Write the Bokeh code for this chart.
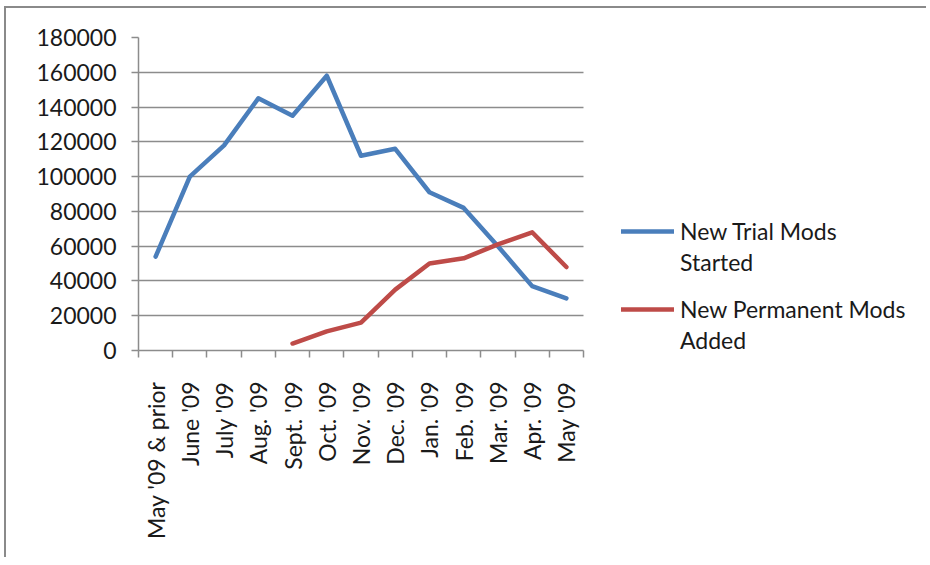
from bokeh.plotting import figure
from bokeh.models import (Range1d, FixedTicker, Legend, LegendItem, ColumnDataSource)
from bokeh.embed import file_html
from bokeh.resources import INLINE
import math

categories = ["May '09 & prior", "June '09", "July '09", "Aug. '09", "Sept. '09",
              "Oct. '09", "Nov. '09", "Dec. '09", "Jan. '09", "Feb. '09",
              "Mar. '09", "Apr. '09", "May '09"]
trial_mods = [54000, 100000, 118000, 145000, 135000, 158000, 112000, 116000,
              91000, 82000, 60000, 37000, 30000]
perm_cats = ["Sept. '09", "Oct. '09", "Nov. '09", "Dec. '09", "Jan. '09",
             "Feb. '09", "Mar. '09", "Apr. '09", "May '09"]
perm_mods = [4000, 11000, 16000, 35000, 50000, 53000, 61000, 68000, 48000]
y_ticks = [0, 20000, 40000, 60000, 80000, 100000, 120000, 140000, 160000, 180000]
series_names = [("New Trial Mods", "Started"), ("New Permanent Mods", "Added")]

FONT = "Lato"
TXT = "#1a1a1a"
GRID = "#8c8c8c"

AXIS_W = 445      # pixel width of the category axis
FRAME_W = 784     # frame also holds the legend
n = len(categories)

p = figure(frame_width=FRAME_W, frame_height=313, output_backend="svg",
           toolbar_location=None,
           x_range=Range1d(0, n * FRAME_W / AXIS_W), y_range=Range1d(0, 180000),
           min_border_left=132, min_border_right=4, min_border_top=29,
           min_border_bottom=207)
p.outline_line_color = None
p.styles = {"border-left": "2px solid #8a8a8a", "border-top": "2px solid #8a8a8a",
            "margin-left": "4px", "margin-top": "6px"}

pos = {c: i + 0.5 for i, c in enumerate(categories)}
src_t = ColumnDataSource(dict(x=[pos[c] for c in categories], y=trial_mods))
src_p = ColumnDataSource(dict(x=[pos[c] for c in perm_cats], y=perm_mods))

# horizontal gridlines limited to the category axis span
p.xgrid.grid_line_color = None
if "cross_bounds" in p.ygrid.properties():
    p.ygrid.cross_bounds = (0, n)
    p.ygrid.grid_line_color = GRID
    p.ygrid.grid_line_width = 1.5
else:
    p.ygrid.grid_line_color = None
    p.segment(x0=[0] * len(y_ticks), x1=[n] * len(y_ticks), y0=y_ticks, y1=y_ticks,
              line_color=GRID, line_width=1.5)

r1 = p.line("x", "y", source=src_t, line_color="#4A7EBB", line_width=4.5,
            line_join="round", line_cap="round")
r2 = p.line("x", "y", source=src_p, line_color="#BE4B48", line_width=4.5,
            line_join="round", line_cap="round")
blank = p.line(x=[], y=[], line_alpha=0)

# x axis
xa = p.xaxis[0]
xa.bounds = (0, n)
xa.ticker = FixedTicker(ticks=[pos[c] for c in categories],
                        minor_ticks=list(range(n + 1)))
xa.major_label_overrides = {pos[c]: c for c in categories}
xa.major_label_orientation = math.pi / 2
xa.major_tick_out = 0
xa.major_tick_in = 0
xa.minor_tick_out = 7
xa.minor_tick_in = 0
xa.minor_tick_line_color = GRID
xa.minor_tick_line_width = 1.5
xa.axis_line_color = GRID
xa.axis_line_width = 1.5
xa.major_label_standoff = 24
xa.major_label_text_font = FONT
xa.major_label_text_font_size = "23px"
xa.major_label_text_color = TXT

# y axis
ya = p.yaxis[0]
ya.ticker = FixedTicker(ticks=y_ticks)
ya.major_label_overrides = {t: str(t) for t in y_ticks}
ya.major_tick_out = 7
ya.major_tick_in = 0
ya.minor_tick_out = 0
ya.minor_tick_in = 0
ya.major_tick_line_color = GRID
ya.major_tick_line_width = 1.5
ya.axis_line_color = GRID
ya.axis_line_width = 1.5
ya.major_label_standoff = 15
ya.major_label_text_font = FONT
ya.major_label_text_font_size = "23px"
ya.major_label_text_color = TXT


def make_legend(names, renderer, loc):
    return Legend(items=[LegendItem(label=names[0], renderers=[renderer]),
                         LegendItem(label=names[1], renderers=[blank])],
                  location=loc, padding=0, margin=0, spacing=3,
                  glyph_width=53, glyph_height=24, label_height=24, label_standoff=6,
                  label_text_font=FONT, label_text_font_size="23px",
                  label_text_color=TXT, border_line_alpha=0, background_fill_alpha=0)


p.add_layout(make_legend(series_names[0], r1, (483, 74)), "center")
p.add_layout(make_legend(series_names[1], r2, (483, -4)), "center")

open("out.html", "w").write(file_html(p, INLINE))
